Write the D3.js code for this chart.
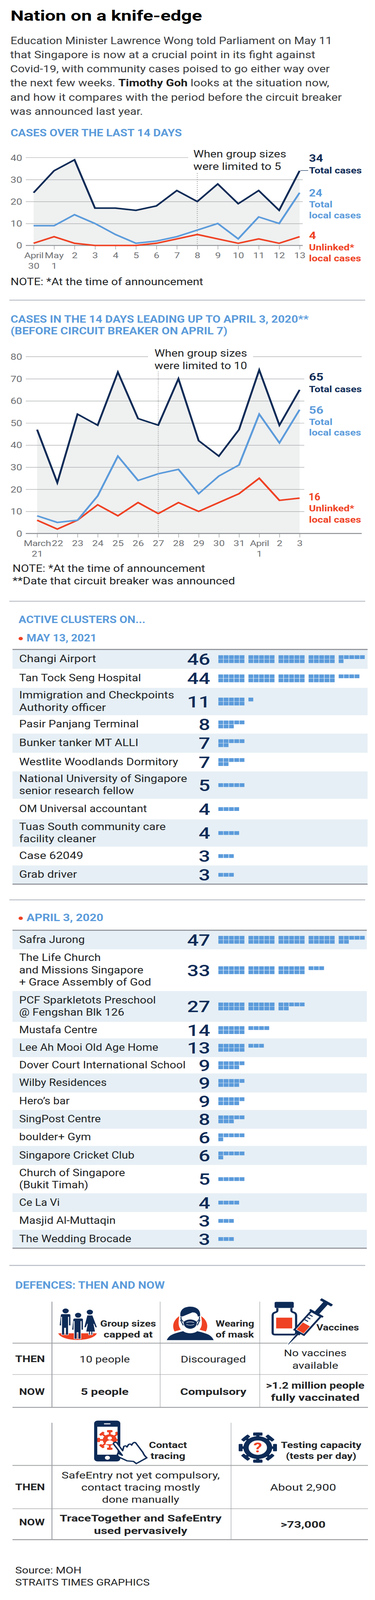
<!DOCTYPE html>
<html>
<head>
<meta charset="utf-8">
<script src="https://cdn.jsdelivr.net/npm/d3@7"></script>
<style>
  html, body { margin: 0; padding: 0; background: #fff; overflow: hidden; }
  text { font-family: Roboto, "Open Sans", sans-serif; }
</style>
</head>
<body>
<div id="chart"></div>
<script>
//Data for the two line charts
const recentDays = ["April 30", "May 1", "2", "3", "4", "5", "6", "7", "8", "9", "10", "11", "12", "13"];
const recentTotal = [24, 34, 39, 17, 17, 16, 18, 25, 20, 28, 19, 25, 16, 34];
const recentLocal = [9, 9, 14, 10, 5, 1, 2, 4, 7, 10, 3, 13, 10, 24];
const recentUnlinked = [1, 4, 1, 0, 0, 0, 1, 3, 5, 3, 1, 3, 1, 4];
const recentTicks = [0, 10, 20, 30, 40];

const pastDays = ["March 21", "22", "23", "24", "25", "26", "27", "28", "29", "30", "31", "April 1", "2", "3"];
const pastTotal = [47, 23, 54, 49, 73, 52, 49, 70, 42, 35, 47, 74, 49, 65];
const pastLocal = [8, 5, 6, 17, 35, 24, 27, 29, 18, 26, 31, 54, 41, 56];
const pastUnlinked = [6, 2, 6, 13, 8, 14, 9, 14, 10, 14, 18, 25, 15, 16];
const pastTicks = [0, 10, 20, 30, 40, 50, 60, 70, 80];

//Data for the two cluster tables
const clusterNames2021 = ["Changi Airport", "Tan Tock Seng Hospital", "Immigration and Checkpoints|Authority officer",
  "Pasir Panjang Terminal", "Bunker tanker MT ALLI", "Westlite Woodlands Dormitory",
  "National University of Singapore|senior research fellow", "OM Universal accountant",
  "Tuas South community care|facility cleaner", "Case 62049", "Grab driver"];
const clusterCounts2021 = [46, 44, 11, 8, 7, 7, 5, 4, 4, 3, 3];

const clusterNames2020 = ["Safra Jurong", "The Life Church|and Missions Singapore|+ Grace Assembly of God",
  "PCF Sparkletots Preschool|@ Fengshan Blk 126", "Mustafa Centre", "Lee Ah Mooi Old Age Home",
  "Dover Court International School", "Wilby Residences", "Hero\u2019s bar", "SingPost Centre", "boulder+ Gym",
  "Singapore Cricket Club", "Church of Singapore|(Bukit Timah)", "Ce La Vi", "Masjid Al-Muttaqin", "The Wedding Brocade"];
const clusterCounts2020 = [47, 33, 27, 14, 13, 9, 9, 9, 8, 6, 6, 5, 4, 3, 3];

//Layout: drawn on the reference's 960x5208 grid, fitted to whatever height the window really has
const svgWidth = 960;
const svgHeight = 5208;
const navy = "#0d2b57";
const blue = "#5b9bdb";
const red = "#ef4123";
const ink = "#222426";
const tickGrey = "#6f7174";
const lineGrey = "#a4a6a9";
const rowFill = "#e6eff5";

//Line widths of the table labels, one entry per text line
const labelWidths2021 = [197, 312, 397, 222, 306, 305, 407, 430, 294, 327, 375, 197, 164, 148];
const labelWidths2020 = [168, 209, 318, 338, 350, 269, 200, 356, 426, 224, 129, 209, 184, 295, 271, 177, 104, 247, 287];

const svg = d3.select("#chart")
  .append("svg")
  .attr("width", svgWidth)
  .attr("height", Math.min(window.innerHeight, svgHeight))
  .attr("viewBox", `0 0 ${svgWidth} ${svgHeight}`)
  .attr("preserveAspectRatio", "none")
  .style("display", "block");

//Small helper so the text lines stay readable. width squeezes the line to the reference's width
function label(parent, x, y, str, size, color, weight, anchor, width) {
  const t = parent.append("text")
    .attr("x", x)
    .attr("y", y)
    .attr("font-size", size)
    .attr("fill", color || ink)
    .attr("font-weight", weight || 400)
    .attr("text-anchor", anchor || "start")
    .text(str);
  if (width) fit(t, x, y, width);
  return t;
}

function fit(t, x, y, width) {
  const r = width / t.node().getComputedTextLength();
  t.attr("x", 0).attr("y", 0).attr("transform", `translate(${x},${y}) scale(${r},1)`);
}

function rule(y) {
  svg.append("line")
    .attr("x1", 24).attr("x2", 935)
    .attr("y1", y).attr("y2", y)
    .attr("stroke", "#b6bcc3").attr("stroke-width", 3);
}

//Title and intro
label(svg, 27, 67, "Nation on a knife-edge", 48, "#000", 700, "start", 490);
label(svg, 27, 143.5, "Education Minister Lawrence Wong told Parliament on May 11", 33, "#3a3c3e", 400, "start", 823);
label(svg, 26, 189.5, "that Singapore is now at a crucial point in its fight against", 33, "#3a3c3e", 400, "start", 781);
label(svg, 26, 235.5, "Covid-19, with community cases poised to go either way over", 33, "#3a3c3e", 400, "start", 818);
const richLine = label(svg, 26, 281.5, "", 33, "#3a3c3e");
richLine.append("tspan").text("the next few weeks. ");
richLine.append("tspan").attr("font-weight", 700).attr("fill", "#222").text("Timothy Goh");
richLine.append("tspan").text(" looks at the situation now,");
fit(richLine, 26, 281.5, 817);
label(svg, 26, 327.5, "and how it compares with the period before the circuit breaker", 33, "#3a3c3e", 400, "start", 849);
label(svg, 26, 373.5, "was announced last year.", 33, "#3a3c3e", 400, "start", 340);

//Line chart with an area under the total, used for both periods
function lineChart(opt) {
  const x = d3.scalePoint().domain(opt.days).range(opt.xRange);
  const y = d3.scaleLinear().domain([0, opt.yMax]).range(opt.yRange);
  const g = svg.append("g");

  const area = d3.area()
    .x((d, i) => x(opt.days[i]))
    .y0(y(0))
    .y1(d => y(d));
  g.append("path").datum(opt.total).attr("d", area).attr("fill", "#eff0f0");

  //Gridlines come from a left axis with long ticks
  const top = opt.ticks[opt.ticks.length - 1];
  const grid = g.append("g")
    .attr("transform", `translate(${opt.gridEnd},0)`)
    .call(d3.axisLeft(y).tickValues(opt.ticks.filter(t => t > 0 && t < top))
      .tickSize(opt.gridEnd - 66).tickFormat(""));
  grid.select(".domain").remove();
  grid.selectAll(".tick text").remove();
  grid.selectAll("line").attr("stroke", lineGrey).attr("stroke-width", 1.5);

  opt.topSegments.forEach(s => {
    g.append("line")
      .attr("x1", s[0]).attr("x2", s[1])
      .attr("y1", y(top)).attr("y2", y(top))
      .attr("stroke", lineGrey).attr("stroke-width", 1.5);
  });

  const yAxis = g.append("g")
    .attr("transform", "translate(57,0)")
    .call(d3.axisLeft(y).tickValues(opt.ticks).tickSize(0).tickPadding(0));
  yAxis.select(".domain").remove();
  yAxis.selectAll("text")
    .attr("font-size", 27).attr("fill", tickGrey).attr("dy", "0.36em")
    .style("font-family", "Roboto");

  //Dotted marker for the group size rule
  g.append("line")
    .attr("x1", x(opt.markDay)).attr("x2", x(opt.markDay))
    .attr("y1", opt.markTop).attr("y2", y(0))
    .attr("stroke", "#77797c").attr("stroke-width", 2.5)
    .attr("stroke-dasharray", "1.5 5");

  const xAxis = g.append("g")
    .attr("transform", `translate(0,${y(0)})`)
    .call(d3.axisBottom(x).tickSize(13).tickPadding(0).tickFormat(""));
  xAxis.select(".domain").remove();
  xAxis.selectAll(".tick text").remove();
  xAxis.selectAll("line").attr("stroke", lineGrey).attr("stroke-width", 1.5);
  xAxis.selectAll(".tick").append("text")
    .attr("fill", tickGrey).attr("font-size", 26).attr("text-anchor", "middle")
    .style("font-family", "Roboto")
    .each(function (d) {
      d.split(" ").forEach((part, i) => {
        d3.select(this).append("tspan")
          .attr("x", 0).attr("y", 41 + i * 35)
          .attr("letter-spacing", part.length > 3 ? -0.8 : 0)
          .text(part);
      });
    });

  g.append("line")
    .attr("x1", 66).attr("x2", opt.axisEnd)
    .attr("y1", y(0)).attr("y2", y(0))
    .attr("stroke", "#8e9195").attr("stroke-width", 3);

  const line = d3.line().x((d, i) => x(opt.days[i])).y(d => y(d));
  [[opt.unlinked, red], [opt.local, blue], [opt.total, navy]].forEach(s => {
    g.append("path").datum(s[0]).attr("d", line)
      .attr("fill", "none").attr("stroke", s[1]).attr("stroke-width", 5)
      .attr("stroke-linejoin", "miter");
  });
}

//Cases over the last 14 days
label(svg, 27, 444, "CASES OVER THE LAST 14 DAYS", 32, blue, 700, "start", 438.5);
lineChart({
  days: recentDays, total: recentTotal, local: recentLocal, unlinked: recentUnlinked,
  ticks: recentTicks, yMax: 40, yRange: [799, 513], xRange: [86, 767],
  gridEnd: 775, axisEnd: 775, topSegments: [[66, 482]], markDay: "8", markTop: 564
});
label(svg, 495, 513, "When group sizes", 32, ink, 400, "start", 237.6);
label(svg, 495, 553.5, "were limited to 5", 32, ink, 400, "start", 224.7);
svg.append("line").attr("x1", 769).attr("x2", 789).attr("y1", 555).attr("y2", 555).attr("stroke", navy).attr("stroke-width", 1.5);
label(svg, 791, 526, recentTotal[13], 33, navy, 700, "start", 36);
label(svg, 791, 564, "Total cases", 29, navy, 700, "start", 135);
label(svg, 791, 639, recentLocal[13], 33, blue, 700, "start", 34);
label(svg, 791, 675, "Total", 29, blue, 700, "start", 60);
label(svg, 791, 711, "local cases", 29, blue, 700, "start", 133.5);
label(svg, 791, 778, recentUnlinked[13], 33, red, 700, "start", 18);
label(svg, 791, 815, "Unlinked*", 29, red, 700, "start", 116);
label(svg, 791, 851, "local cases", 29, red, 700, "start", 133.5);
label(svg, 27, 928, "NOTE: *At the time of announcement", 32, ink, 400, "start", 493);
rule(977);

//Cases before the circuit breaker
label(svg, 27, 1050, "CASES IN THE 14 DAYS LEADING UP TO APRIL 3, 2020**", 32, blue, 700, "start", 763);
label(svg, 27, 1089, "(BEFORE CIRCUIT BREAKER ON APRIL 7)", 32, blue, 700, "start", 555);
lineChart({
  days: pastDays, total: pastTotal, local: pastLocal, unlinked: pastUnlinked,
  ticks: pastTicks, yMax: 80, yRange: [1736.5, 1161], xRange: [95, 767],
  gridEnd: 779, axisEnd: 926, topSegments: [[66, 379], [648, 926]], markDay: "27", markTop: 1210
});
label(svg, 395.5, 1161, "When group sizes", 32, ink, 400, "start", 237);
label(svg, 395.5, 1201, "were limited to 10", 32, ink, 400, "start", 237);
label(svg, 791, 1239, pastTotal[13], 33, navy, 700, "start", 37);
label(svg, 791, 1276, "Total cases", 29, navy, 700, "start", 135);
label(svg, 791, 1346, pastLocal[13], 33, blue, 700, "start", 37);
label(svg, 791, 1383, "Total", 29, blue, 700, "start", 60);
label(svg, 791, 1418, "local cases", 29, blue, 700, "start", 133.5);
label(svg, 790, 1629, pastUnlinked[13], 33, red, 700, "start", 30);
label(svg, 791, 1665, "Unlinked*", 29, red, 700, "start", 116);
label(svg, 791, 1701, "local cases", 29, red, 700, "start", 133.5);
label(svg, 32, 1862, "NOTE: *At the time of announcement", 32, ink, 400, "start", 493);
label(svg, 32, 1902, "**Date that circuit breaker was announced", 32, ink, 400, "start", 569.5);
rule(1957);

//Cluster tables: each case is one small square, ten to a block
function clusterTable(opt) {
  const blockX = d3.scaleLinear().domain([0, 1]).range([559, 636]);
  const colX = d3.scaleLinear().domain([0, 1]).range([0, 13.6]);
  let widthIndex = 0;

  const rows = svg.append("g").selectAll("g")
    .data(opt.names.map((name, i) => ({ name, count: opt.counts[i], i })))
    .join("g")
    .attr("transform", d => `translate(0,${opt.edges[d.i]})`);

  rows.filter(d => d.i % 2 === 0).append("rect")
    .attr("x", 32).attr("width", opt.right - 32)
    .attr("height", d => opt.edges[d.i + 1] - opt.edges[d.i])
    .attr("fill", rowFill);

  rows.each(function (d) {
    const row = d3.select(this);
    const mid = (opt.edges[d.i + 1] - opt.edges[d.i]) / 2;
    const lines = d.name.split("|");
    lines.forEach((str, k) => {
      label(row, 49, mid + 10 + (k - (lines.length - 1) / 2) * 40, str, 32, ink, 400, "start", opt.widths[widthIndex++]);
    });
    label(row, 538, mid + 19, d.count, 52, navy, 500, "end");

    const rowsUsed = d.count > 5 ? 2 : 1;
    const top = mid - (rowsUsed * 13.2 - 1) / 2;
    row.selectAll("rect.unit")
      .data(d3.range(d.count))
      .join("rect")
      .attr("class", "unit")
      .attr("x", n => blockX(Math.floor(n / 10)) + colX(n % 5))
      .attr("y", n => top + (Math.floor(n / 5) % 2) * 13.2)
      .attr("width", 12.3)
      .attr("height", 12.2)
      .attr("fill", blue);
  });

  [opt.edges[0], opt.edges[opt.edges.length - 1]].forEach(y => {
    svg.append("line")
      .attr("x1", 32).attr("x2", opt.right)
      .attr("y1", y).attr("y2", y)
      .attr("stroke", "#8f9299").attr("stroke-width", 3.5);
  });
}

label(svg, 47.5, 2028, "ACTIVE CLUSTERS ON...", 32, blue, 700, "start", 324.6);
svg.append("circle").attr("cx", 53).attr("cy", 2078.5).attr("r", 5.5).attr("fill", red);
label(svg, 68, 2088, "MAY 13, 2021", 32, blue, 700, "start", 179.4);
clusterTable({
  names: clusterNames2021, counts: clusterCounts2021, right: 941, widths: labelWidths2021,
  edges: [2114, 2177, 2239, 2328, 2388, 2450, 2511, 2600, 2667, 2756, 2817, 2878]
});
rule(2929);
svg.append("circle").attr("cx", 53).attr("cy", 2989).attr("r", 5.5).attr("fill", red);
label(svg, 68, 2998, "APRIL 3, 2020", 32, blue, 700, "start", 196.6);
clusterTable({
  names: clusterNames2020, counts: clusterCounts2020, right: 939, widths: labelWidths2020,
  edges: [3028, 3090, 3226, 3326, 3380, 3441, 3494, 3556, 3613, 3674, 3730, 3792, 3884, 3945, 4003, 4063]
});
rule(4119);

//Defences grids
label(svg, 39, 4195, "DEFENCES: THEN AND NOW", 32, blue, 700, "start", 382.7);

function tableLines(columns, yTop, yHead, yMid, yBottom) {
  const g = svg.append("g");
  columns.forEach((x, i) => {
    g.append("line").attr("x1", x).attr("x2", x).attr("y1", yTop).attr("y2", yBottom)
      .attr("stroke", i === 0 ? "#8f9299" : "#aeb0b3").attr("stroke-width", i === 0 ? 2 : 1.5);
  });
  [[yHead, 2.5], [yMid, 1.5], [yBottom, 3]].forEach(h => {
    g.append("line").attr("x1", 32).attr("x2", 942).attr("y1", h[0]).attr("y2", h[0])
      .attr("stroke", "#9b9da0").attr("stroke-width", h[1]);
  });
}
tableLines([133, 410, 665], 4237, 4372, 4474, 4581);
tableLines([133, 591.5], 4631, 4770, 4911, 5011.5);

//Group sizes icon
function person(cx, headY, feetY, dress) {
  const g = svg.append("g").attr("fill", navy).attr("stroke", "#fff").attr("stroke-width", 1.5);
  g.append("circle").attr("cx", cx).attr("cy", headY).attr("r", 8).attr("stroke", "none");
  const t = headY + 10;
  if (dress) {
    const leg = feetY - t - 54;
    g.append("path").attr("d", `M${cx - 7},${t} h14 l12,40 h-5 l-4,-12 l4,26 h-7 v${leg} h-4 v${-leg} h-2 v${leg} h-4 v${-leg} h-7 l4,-26 l-4,12 h-5 z`);
  } else {
    g.append("path").attr("d", `M${cx - 13},${t + 4} q0,-4 4,-4 h18 q4,0 4,4 v34 h-5 v-28 h-1 v${feetY - t - 10} h-7 v${-(feetY - t - 46)} h-3 v${feetY - t - 46} h-7 v${-(feetY - t - 10)} h-1 v28 h-5 z`);
  }
}
svg.append("path").attr("d", "M149,4340 A50,25 0 0 0 248,4340 Z").attr("fill", red);
person(168, 4267, 4345);
person(230, 4271, 4345, true);
person(200, 4281, 4358);

//Mask icon
const maskIcon = svg.append("g").attr("transform", "translate(487,0)");
maskIcon.append("path").attr("fill", red).attr("d", "M-28,4284 C-46,4300 -46,4320 -40,4334 L-24,4328 C-32,4315 -30,4300 -28,4284 Z");
maskIcon.append("path").attr("fill", red).attr("d", "M28,4284 C46,4300 46,4320 40,4334 L24,4328 C32,4315 30,4300 28,4284 Z");
maskIcon.append("path").attr("fill", navy).attr("d", "M-60,4362 C-54,4344 -40,4340 -18,4333 C-10,4342 10,4342 18,4333 C40,4340 54,4344 60,4362 Z");
maskIcon.append("path").attr("fill", navy).attr("d", "M-25,4285 C-28,4262 -14,4253 0,4253 C14,4253 28,4262 25,4285 L19,4285 C19,4276 12,4272 6,4272 L-19,4285 Z");
maskIcon.append("path").attr("fill", "#fff").attr("d", "M-19,4285 L6,4272 C12,4272 19,4276 19,4285 L19,4312 L0,4330 L-19,4312 Z");
maskIcon.append("path").attr("fill", navy).attr("stroke", "#fff").attr("stroke-width", 1.5).attr("d", "M-18,4302 Q0,4286 18,4302 Q18,4324 0,4326 Q-18,4324 -18,4302 Z");
maskIcon.append("path").attr("fill", "none").attr("stroke", navy).attr("stroke-width", 2.5).attr("d", "M-18,4302 Q-26,4292 -23,4286 M18,4302 Q26,4292 23,4286 M-18,4314 L-25,4296 M18,4314 L25,4296");
maskIcon.append("path").attr("fill", "none").attr("stroke", "#fff").attr("stroke-width", 1.5).attr("d", "M-10,4305 Q0,4300 10,4305 M-10,4311 Q0,4316 10,4311");

//Vaccine icon
svg.append("rect").attr("x", 703).attr("y", 4237.5).attr("width", 49).attr("height", 20).attr("rx", 4).attr("fill", navy);
svg.append("path").attr("fill", "#fff").attr("stroke", navy).attr("stroke-width", 5.5)
  .attr("d", "M710,4258 v8 q0,4 -6,6 q-6,2 -6,10 v56 q0,6 6,6 h48 q6,0 6,-6 v-56 q0,-8 -6,-10 q-6,-2 -6,-6 v-8");
svg.append("rect").attr("x", 707).attr("y", 4289).attr("width", 41).attr("height", 35).attr("fill", red);
const syringe = svg.append("g").attr("transform", "translate(738,4376) rotate(35.5)");
syringe.append("line").attr("x1", 0).attr("x2", 0).attr("y1", 0).attr("y2", -40).attr("stroke", "#fff").attr("stroke-width", 7);
syringe.append("path").attr("d", "M0,0 L-2,-40 L2,-40 Z").attr("fill", navy).attr("stroke", navy).attr("stroke-width", 1.5);
syringe.append("rect").attr("x", -15).attr("y", -122).attr("width", 30).attr("height", 74).attr("fill", "#fff").attr("stroke", navy).attr("stroke-width", 5);
syringe.append("rect").attr("x", -6).attr("y", -48).attr("width", 12).attr("height", 8).attr("fill", navy);
syringe.append("rect").attr("x", -11).attr("y", -80).attr("width", 22).attr("height", 28).attr("fill", red);
syringe.append("path").attr("d", "M-12,-90 h10 M-12,-100 h10 M-12,-110 h10").attr("stroke", navy).attr("stroke-width", 3);
syringe.append("rect").attr("x", -21).attr("y", -127).attr("width", 42).attr("height", 6).attr("rx", 2).attr("fill", navy);
syringe.append("rect").attr("x", -7).attr("y", -165).attr("width", 14).attr("height", 40).attr("fill", navy);
syringe.append("rect").attr("x", -18).attr("y", -172).attr("width", 36).attr("height", 8).attr("rx", 2).attr("fill", navy);

//Phone icon
svg.append("rect").attr("x", 241).attr("y", 4624).attr("width", 67).attr("height", 133).attr("rx", 9).attr("fill", navy);
svg.append("rect").attr("x", 249).attr("y", 4644).attr("width", 52).attr("height", 91).attr("fill", "#fff");
svg.append("rect").attr("x", 266).attr("y", 4633).attr("width", 17).attr("height", 3).attr("rx", 1.5).attr("fill", "#fff");
svg.append("circle").attr("cx", 275).attr("cy", 4745).attr("r", 6.5).attr("fill", "#fff");
function virus(parent, cx, cy, bodyR, spikeR, capW, color, sw) {
  const g = parent.append("g").attr("transform", `translate(${cx},${cy})`);
  d3.range(8).forEach(i => {
    const s = g.append("g").attr("transform", `rotate(${i * 45})`);
    s.append("rect").attr("x", -sw / 2).attr("y", -spikeR).attr("width", sw).attr("height", spikeR - bodyR + 4).attr("fill", color);
    s.append("rect").attr("x", -capW / 2).attr("y", -spikeR).attr("width", capW).attr("height", sw + 2).attr("rx", 2).attr("fill", color);
  });
  g.append("circle").attr("r", bodyR).attr("fill", color);
  return g;
}
const screenClip = svg.append("clipPath").attr("id", "screen");
screenClip.append("rect").attr("x", 249).attr("y", 4644).attr("width", 52).attr("height", 91);
const screenGroup = svg.append("g").attr("clip-path", "url(#screen)");
const phoneVirus = virus(screenGroup, 281, 4687, 18, 32, 14, red, 5);
phoneVirus.append("circle").attr("cy", -6).attr("r", 5.5).attr("fill", "#fff");
phoneVirus.append("path").attr("d", "M-11,14 Q-10,2 0,1 Q10,2 11,14 Z").attr("fill", "#fff");
svg.append("path").attr("fill", "#fff").attr("stroke", navy).attr("stroke-width", 4).attr("stroke-linejoin", "round")
  .attr("d", "M290,4699 Q293,4692 299,4696 L314,4722 L317,4708 Q322,4704 325,4710 L329,4702 Q334,4698 337,4704 Q342,4692 347,4696 L366,4728 Q369,4738 376,4745 L349,4764 L342,4757 L325,4755 L305,4743 Q298,4738 302,4730 L313,4737 Z");

const testVirus = virus(svg, 660, 4712, 37, 49, 24, navy, 8);
testVirus.append("circle").attr("r", 23.5).attr("fill", "#fff");
label(testVirus, 0, 15, "?", 44, red, 700, "middle");

//Header labels in the defence grids
label(svg, 328, 4318, "Group sizes", 27, ink, 700, "middle", 142.7);
label(svg, 328, 4354, "capped at", 27, ink, 700, "middle", 125.5);
label(svg, 552, 4318, "Wearing", 27, ink, 700, "start", 98.6);
label(svg, 552, 4354, "of mask", 27, ink, 700, "start", 98);
label(svg, 810, 4331, "Vaccines", 27, ink, 700, "start", 109);
label(svg, 430, 4713, "Contact", 27, ink, 700, "middle", 97.4);
label(svg, 430, 4749, "tracing", 27, ink, 700, "middle", 88.8);
label(svg, 822, 4713, "Testing capacity", 27, ink, 700, "middle", 206);
label(svg, 822, 4749, "(tests per day)", 27, ink, 700, "middle", 180.6);

//Body cells
label(svg, 39, 4434, "THEN", 31, ink, 700, "start", 76);
label(svg, 114.5, 4540, "NOW", 31, ink, 700, "end", 65.5);
label(svg, 268, 4435, "10 people", 31, ink, 400, "middle", 129);
label(svg, 546, 4435, "Discouraged", 31, ink, 400, "middle", 167);
label(svg, 807, 4415, "No vaccines", 31, ink, 400, "middle", 160.5);
label(svg, 807, 4455, "available", 31, ink, 400, "middle", 117.6);
label(svg, 268, 4540, "5 people", 31, ink, 700, "middle", 122.5);
label(svg, 546, 4540, "Compulsory", 31, ink, 700, "middle", 169.6);
label(svg, 807, 4520, ">1.2 million people", 31, ink, 700, "middle", 252);
label(svg, 807, 4560, "fully vaccinated", 31, ink, 700, "middle", 227);

label(svg, 39, 4851, "THEN", 31, ink, 700, "start", 76);
label(svg, 114.5, 4965, "NOW", 31, ink, 700, "end", 65.5);
label(svg, 360, 4812, "SafeEntry not yet compulsory,", 31, ink, 400, "middle", 405);
label(svg, 360, 4852, "contact tracing mostly", 31, ink, 400, "middle", 304);
label(svg, 360, 4892, "done manually", 31, ink, 400, "middle", 198);
label(svg, 776, 4852, "About 2,900", 31, ink, 400, "middle", 169);
label(svg, 360, 4953, "TraceTogether and SafeEntry", 31, ink, 700, "middle", 414.6);
label(svg, 360, 4993, "used pervasively", 31, ink, 700, "middle", 239);
label(svg, 776, 4973, ">73,000", 31, ink, 700, "middle", 115);

//Source
label(svg, 39, 5122, "Source: MOH", 31, ink, 400, "start", 169.6);
label(svg, 39, 5161, "STRAITS TIMES GRAPHICS", 31, ink, 400, "start", 344);
</script>
</body>
</html>
